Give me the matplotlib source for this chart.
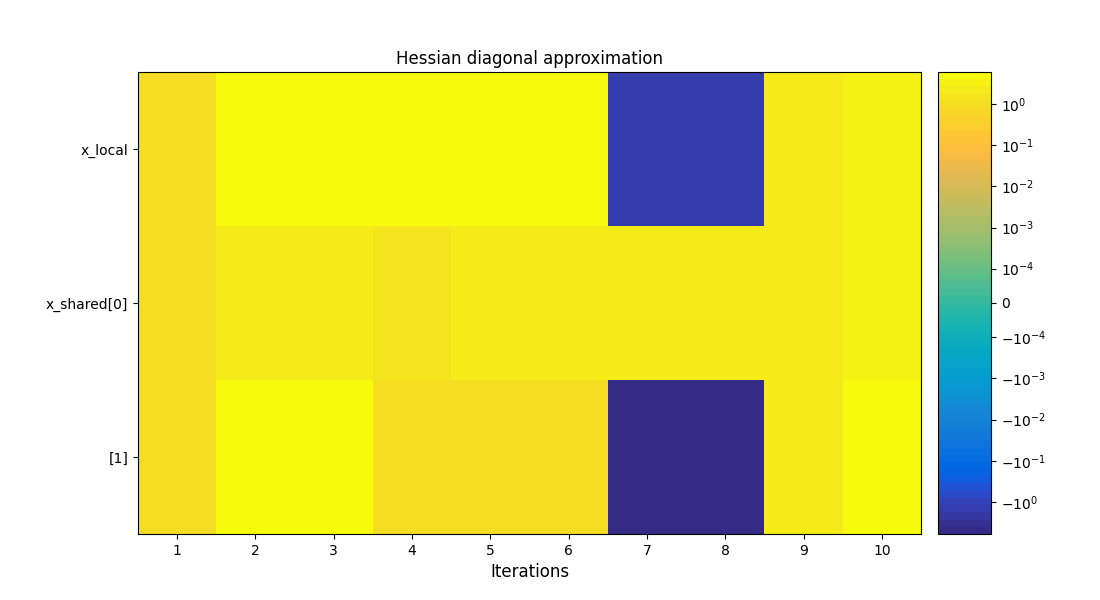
import numpy as np
import matplotlib
matplotlib.use("Agg")
import matplotlib.pyplot as plt
from matplotlib.colors import ListedColormap, SymLogNorm

# parula colormap (64 colours)
parula_data = [[0.2081, 0.1663, 0.5292], [0.2116, 0.1898, 0.5777], [0.2123, 0.2138, 0.6270],
               [0.2081, 0.2386, 0.6771], [0.1959, 0.2645, 0.7279], [0.1707, 0.2919, 0.7792],
               [0.1253, 0.3242, 0.8303], [0.0591, 0.3598, 0.8683], [0.0117, 0.3875, 0.8820],
               [0.0060, 0.4086, 0.8828], [0.0165, 0.4266, 0.8786], [0.0329, 0.4430, 0.8720],
               [0.0498, 0.4586, 0.8641], [0.0629, 0.4737, 0.8554], [0.0723, 0.4887, 0.8467],
               [0.0779, 0.5040, 0.8384], [0.0793, 0.5200, 0.8312], [0.0749, 0.5375, 0.8263],
               [0.0641, 0.5570, 0.8240], [0.0488, 0.5772, 0.8228], [0.0343, 0.5966, 0.8199],
               [0.0265, 0.6137, 0.8135], [0.0239, 0.6287, 0.8038], [0.0231, 0.6418, 0.7913],
               [0.0228, 0.6535, 0.7768], [0.0267, 0.6642, 0.7607], [0.0384, 0.6743, 0.7436],
               [0.0590, 0.6838, 0.7254], [0.0843, 0.6928, 0.7062], [0.1133, 0.7015, 0.6859],
               [0.1453, 0.7098, 0.6646], [0.1801, 0.7177, 0.6424], [0.2178, 0.7250, 0.6193],
               [0.2586, 0.7317, 0.5954], [0.3022, 0.7376, 0.5712], [0.3482, 0.7424, 0.5473],
               [0.3953, 0.7459, 0.5244], [0.4420, 0.7481, 0.5033], [0.4871, 0.7491, 0.4840],
               [0.5300, 0.7491, 0.4661], [0.5709, 0.7485, 0.4494], [0.6099, 0.7473, 0.4337],
               [0.6473, 0.7456, 0.4188], [0.6834, 0.7435, 0.4044], [0.7184, 0.7411, 0.3905],
               [0.7525, 0.7384, 0.3768], [0.7858, 0.7356, 0.3633], [0.8185, 0.7327, 0.3498],
               [0.8507, 0.7299, 0.3360], [0.8824, 0.7274, 0.3217], [0.9139, 0.7258, 0.3063],
               [0.9450, 0.7261, 0.2886], [0.9739, 0.7314, 0.2666], [0.9938, 0.7455, 0.2403],
               [0.9990, 0.7653, 0.2164], [0.9955, 0.7861, 0.1967], [0.9880, 0.8066, 0.1794],
               [0.9789, 0.8271, 0.1633], [0.9697, 0.8481, 0.1475], [0.9626, 0.8705, 0.1309],
               [0.9589, 0.8949, 0.1132], [0.9598, 0.9218, 0.0948], [0.9661, 0.9514, 0.0755],
               [0.9763, 0.9831, 0.0538]]
parula = ListedColormap(parula_data, name="parula")

iterations = [1, 2, 3, 4, 5, 6, 7, 8, 9, 10]
variables = ["x_local", "x_shared[0]", "[1]"]

# diagonal of the hessian approximation per iteration
x_local = [1.0, 5.5, 5.5, 5.5, 5.5, 5.5, -1.6, -1.6, 2.0, 2.8]
x_shared_0 = [1.0, 1.9, 1.9, 1.6, 2.2, 2.2, 2.2, 2.2, 2.2, 3.0]
x_shared_1 = [1.0, 5.0, 5.0, 1.1, 1.1, 1.1, -6.0, -6.0, 2.4, 5.0]

data = np.array([x_local, x_shared_0, x_shared_1])
vmax = np.abs(data).max()

fig = plt.figure(figsize=(11, 6), dpi=100)
ax = fig.add_axes([0.1255, 0.11, 0.7118, 0.77])
cax = fig.add_axes([0.8527, 0.11, 0.0482, 0.77])

norm = SymLogNorm(linthresh=1e-4, linscale=0.75, vmin=-vmax, vmax=vmax, base=10)
im = ax.imshow(data, cmap=parula, norm=norm, aspect="auto", interpolation="nearest")

ax.set_xticks(range(len(iterations)))
ax.set_xticklabels([str(i) for i in iterations])
ax.set_yticks(range(len(variables)))
ax.set_yticklabels(variables)
ax.set_xlabel("Iterations", fontsize=12)
ax.set_title("Hessian diagonal approximation", fontsize=12)

fig.colorbar(im, cax=cax)

plt.savefig("out.png", dpi=100)
